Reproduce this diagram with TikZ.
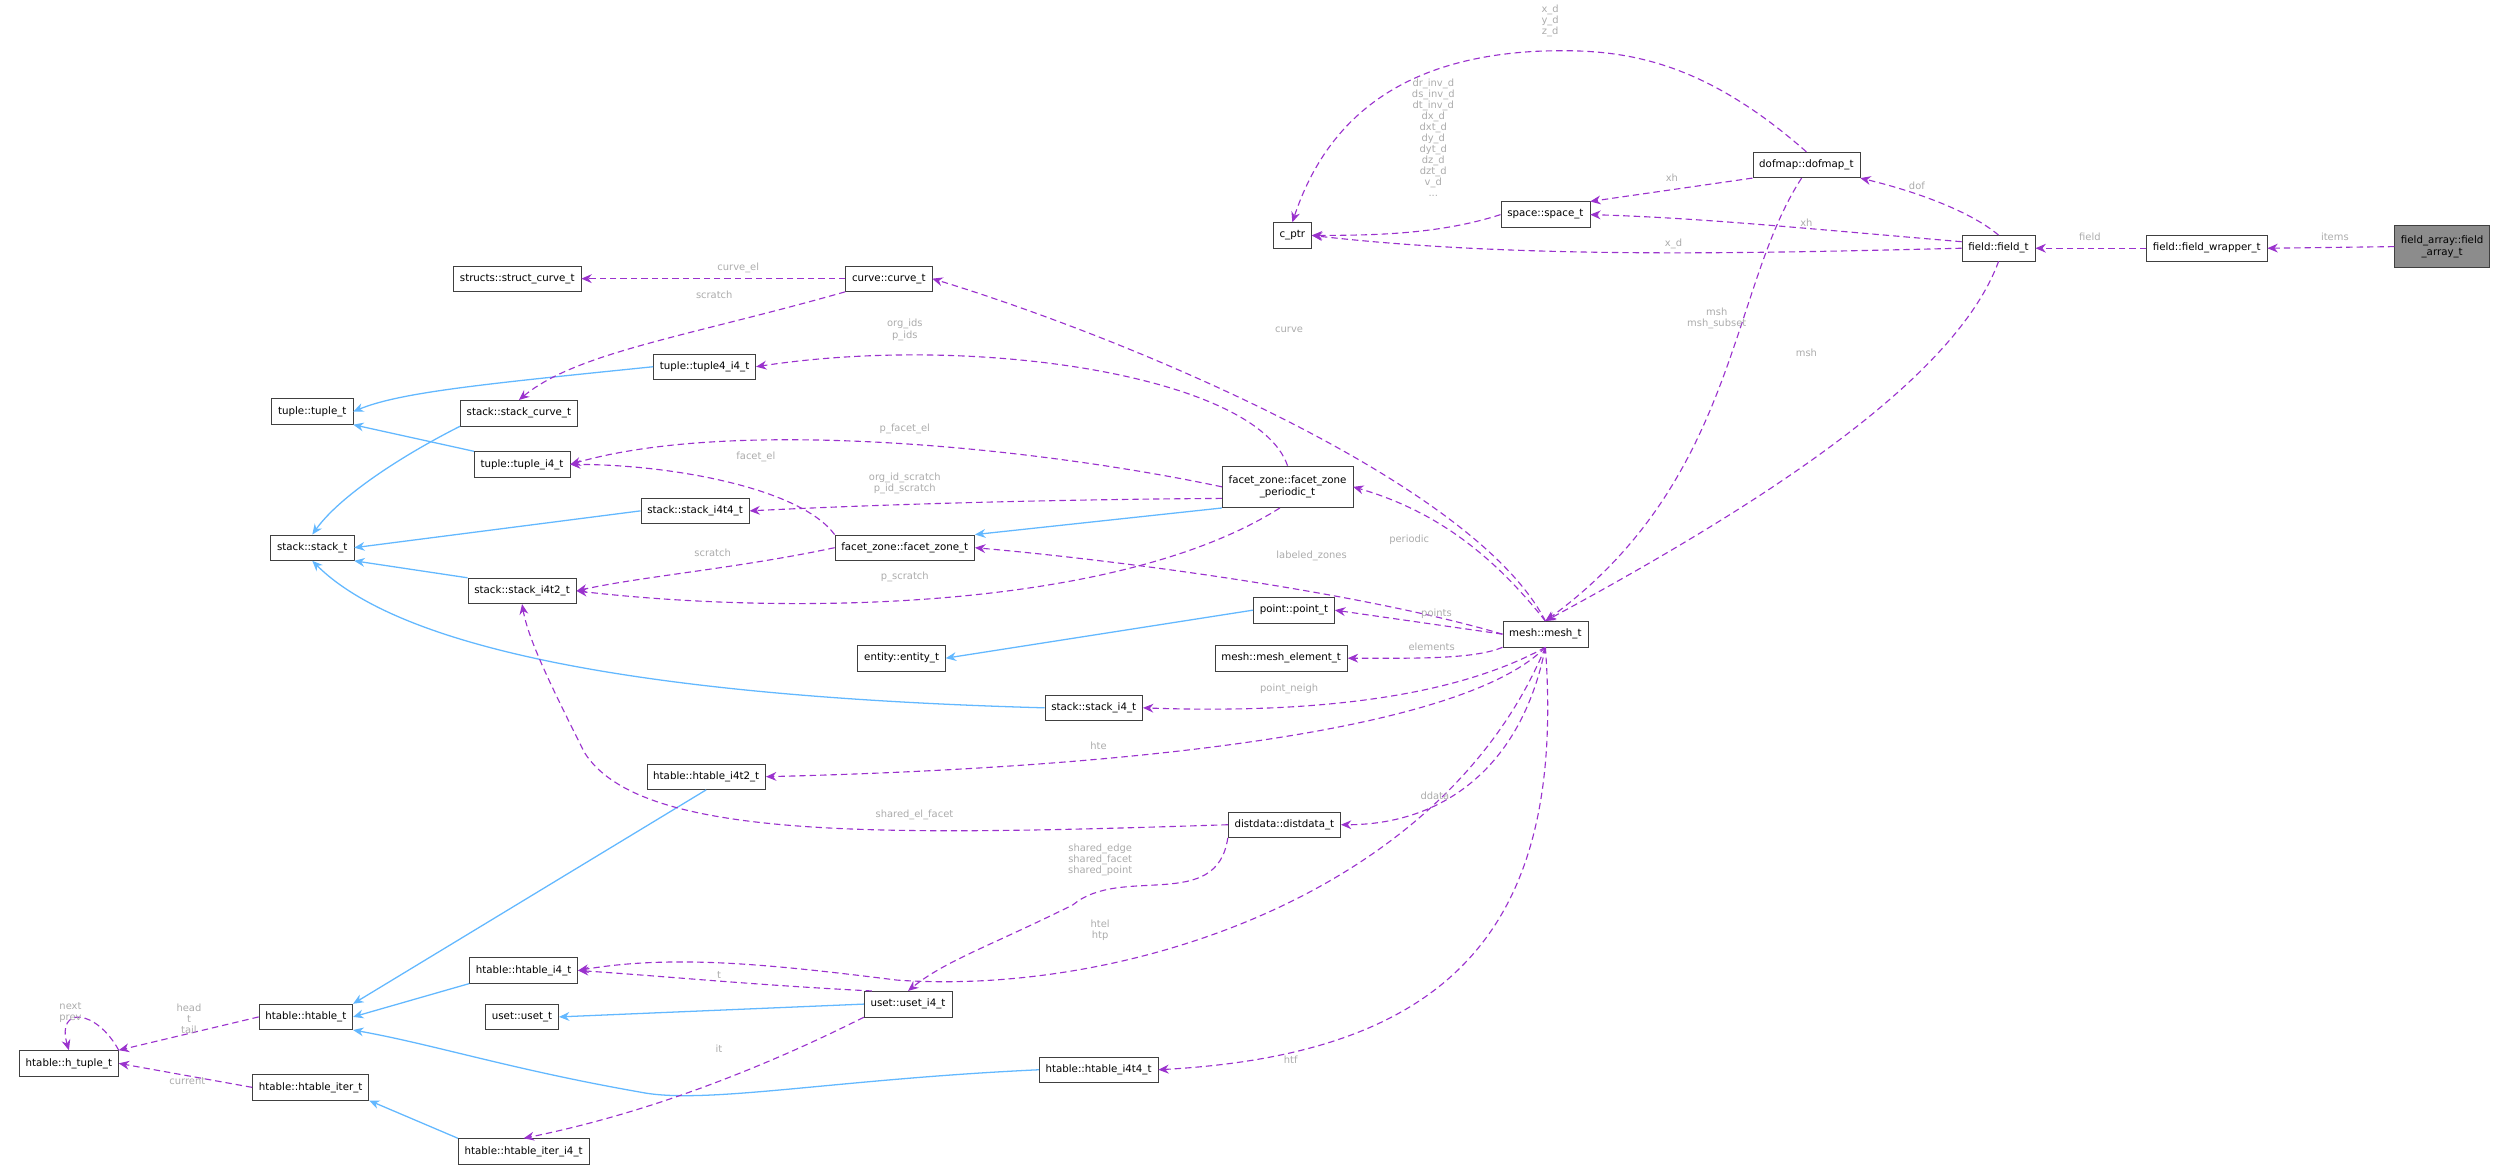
\documentclass[tikz,border=0pt]{standalone}
\usepackage{fontspec}
\setmainfont{DejaVu Sans}
\usetikzlibrary{arrows.meta}
\definecolor{pur}{HTML}{9A32CD}
\definecolor{blu}{HTML}{63B8FF}
\definecolor{lab}{HTML}{ABABAB}
\begin{document}
\begin{tikzpicture}[x=1pt,y=-1pt,
  box/.style={draw=black!75,fill=white,font=\fontsize{6.4}{7.4}\selectfont,inner xsep=4pt,inner ysep=0pt,minimum height=16pt,align=center},
  use/.style={pur,dashed,dash pattern=on 4pt off 2.5pt,line width=0.7pt,-{Stealth[length=6.5pt,width=5.5pt]}},
  inh/.style={blu,line width=0.8pt,-{Stealth[length=6.5pt,width=5.5pt]}},
  lbl/.style={text=lab,font=\fontsize{6.2}{6.9}\selectfont,align=center,inner sep=0pt}]
\useasboundingbox (0,0) rectangle (1568,732);
% nodes
\node[box,fill=black!45,minimum height=26pt] (fa) at (1525,154) {field\_array::field\\\_array\_t};
\node[box] (fw) at (1378,155) {field::field\_wrapper\_t};
\node[box] (ft) at (1248,155) {field::field\_t};
\node[box] (dm) at (1128,103) {dofmap::dofmap\_t};
\node[box] (sp) at (965,134) {space::space\_t};
\node[box] (cp) at (807,147) {c\_ptr};
\node[box] (cu) at (555,174) {curve::curve\_t};
\node[box] (sc) at (323,174) {structs::struct\_curve\_t};
\node[box] (t4) at (440,229) {tuple::tuple4\_i4\_t};
\node[box] (tt) at (195,257) {tuple::tuple\_t};
\node[box] (stc) at (324,258) {stack::stack\_curve\_t};
\node[box] (ti) at (326,290) {tuple::tuple\_i4\_t};
\node[box] (s44) at (434,319) {stack::stack\_i4t4\_t};
\node[box,minimum height=26pt] (fp) at (804,304) {facet\_zone::facet\_zone\\\_periodic\_t};
\node[box] (fz) at (565,342) {facet\_zone::facet\_zone\_t};
\node[box] (st) at (195,342) {stack::stack\_t};
\node[box] (s42) at (326,369) {stack::stack\_i4t2\_t};
\node[box] (pt) at (808,381) {point::point\_t};
\node[box] (ms) at (965,396) {mesh::mesh\_t};
\node[box] (en) at (563,411) {entity::entity\_t};
\node[box] (me) at (800,411) {mesh::mesh\_element\_t};
\node[box] (si) at (683,442) {stack::stack\_i4\_t};
\node[box] (h42) at (441,485) {htable::htable\_i4t2\_t};
\node[box] (dd) at (802,515) {distdata::distdata\_t};
\node[box] (hi) at (327,606) {htable::htable\_i4\_t};
\node[box] (ht) at (191,635) {htable::htable\_t};
\node[box] (us) at (326,635) {uset::uset\_t};
\node[box] (ui) at (567,627) {uset::uset\_i4\_t};
\node[box] (hu) at (43,664) {htable::h\_tuple\_t};
\node[box] (hit) at (194,679) {htable::htable\_iter\_t};
\node[box] (h44) at (686,668) {htable::htable\_i4t4\_t};
\node[box] (hii) at (327,719) {htable::htable\_iter\_i4\_t};
% inheritance
\draw[inh] (t4.west) .. controls (300,240) and (250,245) .. (tt.east);
\draw[inh] (ti.north west) -- (tt.south east);
\draw[inh] (stc.south west) .. controls (250,285) and (212,310) .. (st.north);
\draw[inh] (s44.west) -- (st.east);
\draw[inh] (s42.north west) -- (st.south east);
\draw[inh] (si.west) .. controls (400,435) and (250,405) .. (st.south);
\draw[inh] (fp.south west) -- (fz.north east);
\draw[inh] (pt.west) -- (en.east);
\draw[inh] (h42.south) -- (ht.north east);
\draw[inh] (hi.south west) -- (ht.east);
\draw[inh] (ui.west) -- (us.east);
\draw[inh] (h44.west) .. controls (520,674) and (440,690) .. (400,682) .. controls (320,668) and (270,652) .. (ht.south east);
\draw[inh] (hii.north west) -- (hit.south east);
% usage
\draw[use] (fa.west) -- (fw.east);
\draw[use] (fw.west) -- (ft.east);
\draw[use] (ft.north) .. controls (1228,130) and (1190,118) .. (dm.south east);
\draw[use] (ft.170) .. controls (1120,142) and (1060,136) .. (sp.east);
\draw[use] (ft.west) .. controls (1100,158) and (950,162) .. (cp.east);
\draw[use] (sp.west) .. controls (900,146) and (860,147) .. (cp.east);
\draw[use] (dm.south west) -- (sp.north east);
\draw[use] (dm.north) .. controls (1060,35) and (1010,30) .. (960,32) .. controls (880,36) and (830,70) .. (cp.north);
\draw[use] (dm.250) .. controls (1080,180) and (1085,300) .. (ms.north);
\draw[use] (ft.south) .. controls (1220,240) and (1090,320) .. (ms.north);
\draw[use] (ms.north) .. controls (920,300) and (700,210) .. (cu.east);
\draw[use] (cu.west) -- (sc.east);
\draw[use] (cu.south west) .. controls (430,210) and (360,220) .. (stc.north);
\draw[use] (fp.north) .. controls (785,235) and (610,208) .. (t4.east);
\draw[use] (fp.west) .. controls (650,280) and (460,260) .. (ti.east);
\draw[use] (fp.190) .. controls (650,312) and (550,315) .. (s44.east);
\draw[use] (fp.250) .. controls (700,380) and (500,385) .. (s42.east);
\draw[use] (fz.north west) .. controls (500,305) and (420,290) .. (ti.east);
\draw[use] (fz.west) .. controls (460,355) and (400,360) .. (s42.east);
\draw[use] (ms.north) .. controls (935,350) and (900,320) .. (fp.east);
\draw[use] (ms.west) .. controls (850,370) and (700,350) .. (fz.east);
\draw[use] (ms.west) -- (pt.east);
\draw[use] (ms.south west) .. controls (920,412) and (880,411) .. (me.east);
\draw[use] (ms.south) .. controls (900,440) and (800,445) .. (si.east);
\draw[use] (ms.south) .. controls (900,470) and (600,482) .. (h42.east);
\draw[use] (ms.south) .. controls (950,480) and (900,515) .. (dd.east);
\draw[use] (ms.south) .. controls (900,560) and (700,622) .. (560,612) .. controls (480,602) and (420,596) .. (hi.east);
\draw[use] (ms.south) .. controls (978,580) and (905,658) .. (h44.east);
\draw[use] (dd.west) .. controls (550,522) and (400,525) .. (365,470) .. controls (345,430) and (330,400) .. (s42.south);
\draw[use] (dd.south west) .. controls (760,570) and (700,540) .. (670,565) .. controls (620,590) and (590,600) .. (ui.north);
\draw[use] (ui.160) .. controls (470,615) and (420,610) .. (hi.east);
\draw[use] (ui.south west) .. controls (450,680) and (380,700) .. (hii.north);
\draw[use] (ht.west) -- (hu.north east);
\draw[use] (hit.west) -- (hu.east);
\draw[use] (hu.north east) .. controls (60,630) and (35,628) .. (hu.north);
% labels
\node[lbl] (l1) at (1458,148) {items};
\node[lbl] (l2) at (1305,148) {field};
\node[lbl] (l3) at (1197,116) {dof};
\node[lbl] (l4) at (1128,139) {xh};
\node[lbl] (l5) at (1044,111) {xh};
\node[lbl] (l6) at (1045,152) {x\_d};
\node[lbl] (l7) at (1128,220) {msh};
\node[lbl] (l8) at (1072,199) {msh\\msh\_subset};
\node[lbl] (l9) at (968,13) {x\_d\\y\_d\\z\_d};
\node[lbl] (l10) at (895,86) {dr\_inv\_d\\ds\_inv\_d\\dt\_inv\_d\\dx\_d\\dxt\_d\\dy\_d\\dyt\_d\\dz\_d\\dzt\_d\\v\_d\\...};
\node[lbl] (l11) at (805,206) {curve};
\node[lbl] (l12) at (461,167) {curve\_el};
\node[lbl] (l13) at (446,184) {scratch};
\node[lbl] (l14) at (565,206) {org\_ids\\p\_ids};
\node[lbl] (l15) at (565,268) {p\_facet\_el};
\node[lbl] (l16) at (472,285) {facet\_el};
\node[lbl] (l17) at (565,302) {org\_id\_scratch\\p\_id\_scratch};
\node[lbl] (l18) at (445,345) {scratch};
\node[lbl] (l19) at (565,360) {p\_scratch};
\node[lbl] (l20) at (880,337) {periodic};
\node[lbl] (l21) at (819,347) {labeled\_zones};
\node[lbl] (l22) at (897,383) {points};
\node[lbl] (l23) at (894,404) {elements};
\node[lbl] (l24) at (805,430) {point\_neigh};
\node[lbl] (l25) at (686,466) {hte};
\node[lbl] (l26) at (896,497) {ddata};
\node[lbl] (l27) at (571,509) {shared\_el\_facet};
\node[lbl] (l28) at (687,537) {shared\_edge\\shared\_facet\\shared\_point};
\node[lbl] (l29) at (687,581) {htel\\htp};
\node[lbl] (l30) at (449,609) {t};
\node[lbl] (l31) at (449,655) {it};
\node[lbl] (l32) at (806,662) {htf};
\node[lbl] (l33) at (118,636) {head\\t\\tail};
\node[lbl] (l34) at (117,675) {current};
\node[lbl] (l35) at (44,632) {next\\prev};
\end{tikzpicture}
\end{document}
